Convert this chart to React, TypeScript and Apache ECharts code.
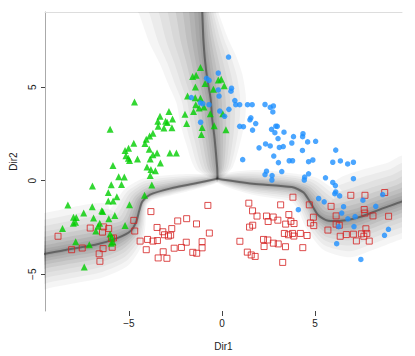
import React, { useEffect, useRef } from "react";
import * as echarts from "echarts";

const xTicks = [-5, 0, 5];
const yTicks = [-5, 0, 5];

const greenPts: number[][] = [
  [-1.16, 6.06], [-1.58, 5.58], [-1.39, 5.64], [-0.2, 5.39], [-0.04, 5.43], [-0.91, 5.21], [-1.43, 5.02], [0.12, 5.09],
  [-0.46, 4.9], [-1.85, 4.53], [-1.44, 4.44], [-1.16, 4.42], [-1.41, 4.07], [-0.97, 3.95], [-1.23, 3.89], [-1.53, 3.71],
  [-0.63, 3.58], [-1.99, 3.56], [0.04, 3.59], [-1.9, 3.06], [-1.07, 2.85], [-0.42, 2.94], [0.21, 2.73], [-1.11, 2.48],
  [-4.7, 4.21], [-2.85, 3.71], [-3.33, 3.45], [-2.66, 3.31], [-3.45, 3.19], [-3.03, 3.19], [-2.94, 3.12], [-6.01, 2.76],
  [-3.43, 2.92], [-3.12, 2.82], [-2.69, 2.84], [-3.71, 2.54], [-3.89, 2.39], [-4.07, 2.22], [-4.74, 2.01], [-4.14, 1.99],
  [-5.02, 1.74], [-5.21, 1.62], [-3.91, 1.69], [-3.49, 1.48], [-2.8, 1.48], [-2.45, 1.48], [-3.71, 1.39], [-5.16, 1.34],
  [-5.03, 1.2], [-4.54, 1.16], [-4.97, 1.09], [-3.86, 1.16], [-3.31, 0.95], [-5.86, 0.81], [-4.03, 0.74], [-3.82, 0.6],
  [-3.58, 0.54], [-5.55, 0.21], [-5.25, 0.2], [-3.86, 0.28], [-6.96, -0.28], [-5.95, -0.21], [-5.4, -0.2], [-3.77, -0.23],
  [-6.11, -0.63], [-5.65, -0.85], [-4.16, -0.78], [-8.28, -1.3], [-6.97, -1.39], [-6.11, -1.09], [-5.85, -1.09], [-4.97, -1.28],
  [-6.46, -1.6], [-6.41, -1.65], [-7.43, -1.73], [-6.9, -1.99], [-5.76, -1.86], [-6.08, -2.04], [-7.98, -1.95], [-7.83, -1.97],
  [-7.99, -2.27], [-7.87, -2.22], [-6.57, -2.27], [-6.66, -2.43], [-5.21, -2.39], [-8.57, -2.55], [-6.78, -2.69], [-6.01, -2.85],
  [-5.93, -3.01], [-5.86, -3.28], [-5.95, -3.34], [-7.86, -3.26], [-7.13, -3.43], [-7.4, -4.61],
];

const bluePts: number[][] = [
  [0.35, 6.62], [-0.2, 5.76], [-0.83, 5.48], [-0.7, 5.37], [0.51, 4.95], [0.48, 4.79], [-0.2, 4.86], [-0.16, 4.53],
  [-1.65, 4.45], [0.69, 4.29], [-1.16, 4.17], [-1.03, 4.12], [-0.7, 4.07], [0.74, 4.07], [0.95, 4.07], [1.37, 4.07],
  [1.62, 4.07], [2.31, 4.08], [2.59, 3.93], [2.76, 4.0], [2.73, 3.68], [-0.12, 3.73], [0.37, 3.82], [0.14, 3.45],
  [1.55, 3.37], [1.5, 3.26], [1.81, 3.06], [0.95, 2.91], [1.15, 2.89], [1.64, 2.71], [2.89, 2.92], [2.97, 2.91],
  [2.66, 2.75], [3.33, 2.6], [2.84, 2.57], [3.84, 2.36], [4.35, 2.52], [4.33, 2.36], [3.01, 2.26], [2.34, 1.97],
  [2.59, 1.86], [3.29, 1.83], [3.08, 1.78], [1.99, 1.76], [3.75, 2.02], [4.6, 2.08], [5.03, 2.11], [4.32, 1.62],
  [6.11, 1.64], [2.78, 1.32], [1.11, 1.13], [3.03, 0.97], [3.61, 1.07], [3.79, 1.07], [4.65, 1.02], [4.88, 1.11],
  [5.95, 0.99], [6.36, 1.06], [6.75, 0.9], [7.06, 0.99], [2.39, 0.51], [2.31, 0.33], [3.21, 0.49], [2.69, 0.28],
  [2.68, 0.04], [4.65, 0.37], [4.44, 0.2], [4.42, 0.04], [5.56, 0.16], [7.06, 0.11], [5.95, -0.09], [6.09, -0.26],
  [6.11, -0.6], [6.06, -0.69], [6.32, -0.81], [5.19, -0.95], [5.49, -1.13], [7.57, -1.04], [6.53, -1.39], [8.26, -1.37],
  [4.1, -1.55], [6.43, -1.73], [7.15, -1.92], [6.76, -2.04], [8.63, -0.74], [8.94, -2.6], [8.73, -2.92], [7.09, -2.45],
  [6.27, -2.46], [6.16, -3.37], [7.46, -4.21], [-1.15, 3.13],
];

const redPts: number[][] = [
  [6.92, -0.78], [7.68, -0.78], [8.74, -0.63], [3.81, -0.88], [4.69, -1.29], [5.86, -1.37], [7.64, -1.54], [7.67, -1.73],
  [6.13, -1.88], [8.11, -1.88], [8.95, -1.9], [4.91, -1.95], [4.75, -2.26], [4.93, -2.4], [6.13, -2.32], [6.3, -2.38],
  [5.69, -2.64], [7.73, -2.57], [4.21, -2.82], [4.57, -2.93], [6.35, -2.97], [6.68, -2.88], [7.06, -2.86], [7.49, -2.84],
  [7.78, -2.82], [7.62, -2.97], [7.22, -3.22], [7.91, -3.23], [4.34, -3.58], [-0.76, -1.32], [1.44, -1.2], [3.15, -1.29],
  [1.64, -1.61], [1.88, -1.89], [2.39, -1.89], [2.75, -1.94], [3.0, -2.11], [2.48, -2.18], [3.59, -1.81], [3.42, -2.32],
  [3.7, -2.17], [3.87, -2.29], [1.48, -2.48], [1.65, -2.38], [3.35, -2.82], [3.57, -2.89], [3.79, -2.82], [3.86, -2.96],
  [-0.68, -2.8], [0.96, -3.24], [2.23, -3.14], [2.46, -3.17], [2.76, -3.34], [3.02, -3.38], [2.26, -3.52], [3.41, -3.53],
  [1.36, -3.82], [1.57, -3.97], [1.78, -4.05], [3.26, -4.37], [-2.38, -2.15], [-1.9, -2.03], [-1.37, -2.31], [-2.7, -2.56],
  [-3.09, -2.89], [-2.88, -2.96], [-2.76, -2.91], [-1.92, -3.29], [-1.07, -3.26], [-2.57, -3.61], [-2.18, -3.57], [-1.07, -3.59],
  [-1.57, -3.83], [-1.36, -3.88], [-2.96, -4.15], [-3.82, -1.65], [-8.81, -2.97], [-7.08, -2.53], [-6.36, -2.47], [-6.09, -2.56],
  [-6.42, -2.75], [-4.74, -2.12], [-4.69, -2.69], [-3.49, -2.5], [-3.18, -2.73], [-4.0, -3.14], [-3.71, -3.23], [-3.47, -3.2],
  [-4.4, -3.23], [-5.94, -3.1], [-5.83, -3.06], [-8.08, -3.69], [-7.51, -3.6], [-6.39, -3.63], [-5.9, -3.56], [-6.6, -3.91],
  [-4.07, -3.69], [-3.16, -3.8], [-3.43, -4.13], [-6.56, -4.31],
];

// boundary branches: [x, y, half-width on left-of-travel side, half-width on right-of-travel side]
const upperBranch: number[][] = [
  [-0.24, 0.11, 0.2, 0.2], [-0.26, 0.69, 0.85, 1.16], [-0.4, 2.27, 1.48, 1.58], [-0.53, 3.33, 1.8, 1.74],
  [-0.61, 4.38, 1.9, 1.85], [-0.79, 5.44, 1.9, 2.11], [-0.92, 6.5, 1.69, 2.43], [-1.0, 7.55, 1.32, 2.91],
  [-1.06, 9.03, 0.85, 3.38], [-1.11, 9.93, 0.63, 3.7],
];
const leftBranch: number[][] = [
  [-0.26, 0.11, 0.2, 0.2], [-1.53, -0.16, 0.53, 0.32], [-2.8, -0.42, 0.74, 0.37], [-3.86, -0.74, 0.95, 0.32],
  [-4.28, -1.11, 1.16, 0.32], [-4.44, -1.58, 1.37, 0.37], [-4.6, -2.17, 1.58, 0.53], [-4.91, -2.69, 1.74, 0.95],
  [-5.6, -3.06, 2.01, 1.58], [-6.81, -3.43, 2.22, 1.8], [-8.4, -3.7, 2.17, 1.85], [-9.51, -3.91, 2.17, 1.85],
  [-10.51, -4.07, 2.17, 1.85],
];
const rightBranch: number[][] = [
  [-0.26, 0.11, 0.2, 0.2], [1.64, -0.16, 0.58, 0.74], [3.75, -0.34, 0.74, 0.74], [4.38, -0.63, 0.79, 1.06],
  [4.81, -1.27, 0.79, 1.48], [5.18, -1.85, 0.95, 1.8], [5.71, -2.14, 1.58, 2.11], [6.66, -2.11, 2.01, 2.32],
  [7.45, -1.93, 1.9, 2.38], [8.5, -1.53, 1.9, 2.32], [9.67, -1.11, 1.9, 2.22], [10.62, -0.74, 1.9, 2.22],
];
const branches = [upperBranch, leftBranch, rightBranch];

const LEVELS = 10;
const FONT = "'Liberation Sans', Arial, Helvetica, sans-serif";

function renderBand(params: any, api: any) {
  const b = branches[params.dataIndex];
  const unit = api.size([1, 1])[0];
  const pts = b.map((p) => api.coord([p[0], p[1]]));
  const n = pts.length;
  const normals = pts.map((_p: number[], i: number) => {
    const a = pts[Math.max(0, i - 1)];
    const c = pts[Math.min(n - 1, i + 1)];
    const dx = c[0] - a[0];
    const dy = c[1] - a[1];
    const len = Math.hypot(dx, dy) || 1;
    return [-dy / len, dx / len];
  });
  const children: any[] = [];
  for (let k = LEVELS; k >= 1; k--) {
    const f = Math.pow(k / LEVELS, 1.7);
    const pos = pts.map((p: number[], i: number) => [
      p[0] + normals[i][0] * b[i][2] * f * unit,
      p[1] + normals[i][1] * b[i][2] * f * unit,
    ]);
    const neg = pts.map((p: number[], i: number) => [
      p[0] - normals[i][0] * b[i][3] * f * unit,
      p[1] - normals[i][1] * b[i][3] * f * unit,
    ]);
    children.push({
      type: "polygon",
      shape: { points: pos.concat(neg.reverse()), smooth: 0.25 },
      style: { fill: k > 6 ? "rgba(0,0,0,0.04)" : "rgba(0,0,0,0.06)" },
      silent: true,
    });
  }
  children.push({
    type: "polyline",
    shape: { points: pts, smooth: 0.25 },
    style: { stroke: "rgba(50,50,50,0.5)", lineWidth: 2, fill: null },
    silent: true,
  });
  return { type: "group", children };
}

const minusFmt = (v: number) => String(v).replace("-", "\u2212");

export default function App() {
  const ref = useRef<HTMLDivElement>(null);
  useEffect(() => {
    if (!ref.current) return;
    const chart = echarts.init(ref.current, undefined, { renderer: "svg" });
    const xMin = -9.51, xMax = 9.67, yMin = -6.97, yMax = 9.03;
    chart.setOption({
      animation: false,
      backgroundColor: "#ffffff",
      grid: { left: 39, right: 13, top: 12, bottom: 41 },
      xAxis: [
        {
          type: "value",
          min: xMin,
          max: xMax,
          position: "bottom",
          axisLine: { show: false, onZero: false },
          axisTick: { show: true, customValues: xTicks, length: 5, lineStyle: { color: "#444" } },
          axisLabel: { customValues: xTicks, formatter: minusFmt, fontSize: 10, color: "#222", margin: 7, fontFamily: FONT },
          splitLine: { show: false },
          name: "Dir1",
          nameLocation: "middle",
          nameGap: 30,
          nameTextStyle: { fontSize: 10, color: "#222", fontFamily: FONT },
        },
        {
          type: "value",
          min: xMin,
          max: xMax,
          position: "top",
          axisLine: { show: true, onZero: false, lineStyle: { color: "#dddddd" } },
          axisTick: { show: false },
          axisLabel: { show: false },
          splitLine: { show: false },
        },
      ],
      yAxis: {
        type: "value",
        min: yMin,
        max: yMax,
        axisLine: { show: true, onZero: false, lineStyle: { color: "#aaaaaa" } },
        axisTick: { show: true, customValues: yTicks, length: 4, lineStyle: { color: "#444" } },
        axisLabel: { customValues: yTicks, formatter: minusFmt, rotate: 90, fontSize: 10, color: "#222", margin: 8, fontFamily: FONT },
        splitLine: { show: false },
        name: "Dir2",
        nameLocation: "middle",
        nameGap: 27,
        nameTextStyle: { fontSize: 10, color: "#222", fontFamily: FONT },
      },
      series: [
        {
          type: "custom",
          renderItem: renderBand,
          data: branches.map((b) => [b[0][0], b[0][1]]),
          clip: true,
          silent: true,
          z: 1,
        },
        {
          type: "scatter",
          data: redPts,
          symbol: "rect",
          symbolSize: 6,
          itemStyle: { color: "rgba(255,255,255,0)", borderColor: "#d42020", borderWidth: 1 },
          z: 3,
        },
        {
          type: "scatter",
          data: greenPts,
          symbol: "triangle",
          symbolSize: 7,
          itemStyle: { color: "#00cd00" },
          z: 4,
        },
        {
          type: "scatter",
          data: bluePts,
          symbol: "circle",
          symbolSize: 5.5,
          itemStyle: { color: "#1e90ff" },
          z: 5,
        },
      ],
    });
    return () => chart.dispose();
  }, []);
  return (
    <div
      ref={ref}
      style={{ position: "fixed", left: 0, top: 0, width: 415, height: 356 }}
    />
  );
}
